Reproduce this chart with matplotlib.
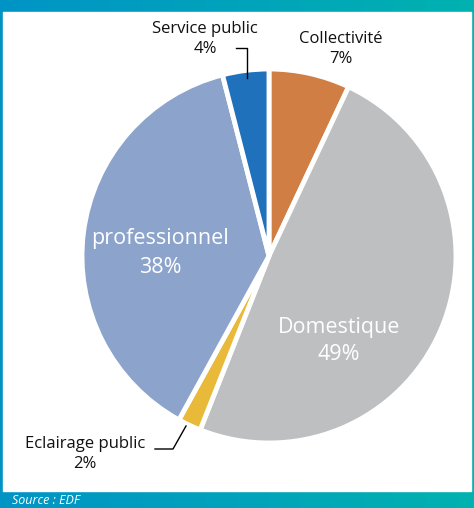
import numpy as np
import matplotlib.pyplot as plt
from matplotlib.lines import Line2D
from matplotlib.colors import LinearSegmentedColormap

labels = ["Collectivité", "Domestique", "Eclairage public", "professionnel", "Service public"]
shares = [7, 49, 2, 38, 4]
colors = ["#d17e45", "#bebfc1", "#e9b93a", "#8ca3cb", "#2071bb"]

W, H = 474, 508
plt.rcParams["font.family"] = ["Open Sans", "DejaVu Sans"]


def fx(x):
    return x / W


def fy(y):
    return 1 - y / H


fig = plt.figure(figsize=(W / 100, H / 100), dpi=100)

# teal gradient frame
bg = fig.add_axes([0, 0, 1, 1])
grad = np.linspace(0, 1, 256).reshape(1, -1)
cmap = LinearSegmentedColormap.from_list("frame", ["#0094c6", "#00b2b0"])
bg.imshow(grad, aspect="auto", cmap=cmap, extent=[0, 1, 0, 1])
bg.add_patch(plt.Rectangle((fx(3), fy(491)), fx(471) - fx(3), fy(12) - fy(491),
                           color="white", transform=bg.transAxes))
bg.set_xlim(0, 1)
bg.set_ylim(0, 1)
bg.axis("off")

# pie
cx, cy, r = 269, 256, 187
ax = fig.add_axes([fx(cx - r), fy(cy + r), 2 * r / W, 2 * r / H])
ax.pie(shares, colors=colors, startangle=90, counterclock=False,
       wedgeprops=dict(edgecolor="white", linewidth=3.5))
ax.set_xlim(-1, 1)
ax.set_ylim(-1, 1)
ax.axis("off")

# labels
fig.text(fx(160), fy(253), f"{labels[3]}\n{shares[3]}%", color="white",
         fontsize=15.5, ha="center", va="center", linespacing=1.5)
fig.text(fx(339), fy(341), f"{labels[1]}\n{shares[1]}%", color="white",
         fontsize=15.5, ha="center", va="center", linespacing=1.4)
fig.text(fx(205), fy(39), f"{labels[4]}\n{shares[4]}%", color="#111111",
         fontsize=12, ha="center", va="center", linespacing=1.35)
fig.text(fx(341), fy(49), f"{labels[0]}\n{shares[0]}%", color="#111111",
         fontsize=12, ha="center", va="center", linespacing=1.35)
fig.text(fx(85), fy(454), f"{labels[2]}\n{shares[2]}%", color="#111111",
         fontsize=12, ha="center", va="center", linespacing=1.35)

# leader lines
fig.add_artist(Line2D([fx(236), fx(247), fx(247)], [fy(48), fy(48), fy(78)],
                      color="black", linewidth=1))
fig.add_artist(Line2D([fx(155), fx(173), fx(186)], [fy(449), fy(449), fy(426)],
                      color="black", linewidth=1))

fig.text(fx(12), fy(500), "Source : EDF", color="white", fontsize=9,
         style="italic", ha="left", va="center")

fig.savefig("out.png", dpi=100)
